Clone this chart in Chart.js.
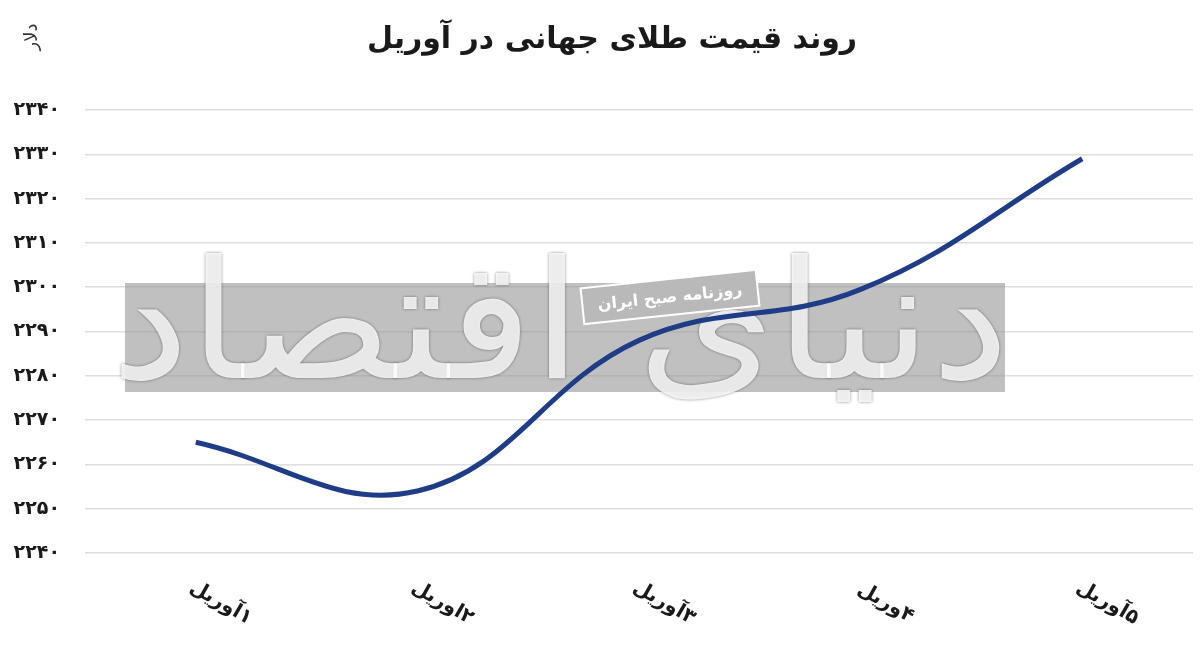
<!DOCTYPE html>
<html lang="fa">
<head>
<meta charset="utf-8">
<script src="https://cdn.jsdelivr.net/npm/chart.js@4.4.1/dist/chart.umd.min.js"></script>
<style>
  body { margin: 0; background: #fff; }
  canvas { display: block; }
</style>
</head>
<body>
<canvas id="c" width="1200" height="672"></canvas>
<script>
// values
const chartTitle = 'روند قیمت طلای جهانی در آوریل'
const unitLabel = 'دلار'
const days = ['۱آوریل', '۲اوریل', '۳آوریل', '۴وریل', '۵آوریل']
const prices = [2265, 2254, 2288, 2299.5, 2329]
const yMin = 2240
const yMax = 2340
const yStep = 10

function fa(n) {
    return String(n).replace(/\d/g, d => '۰۱۲۳۴۵۶۷۸۹'[d])
}

const FONT = '"DejaVu Sans", sans-serif'

// watermark band + title + rotated day labels
const decor = {
    id: 'decor',
    beforeDatasetsDraw(chart) {
        const ctx = chart.ctx
        ctx.save()
        ctx.fillStyle = 'rgba(150,150,150,0.6)'
        ctx.fillRect(125, 283, 880, 109)

        ctx.direction = 'rtl'
        ctx.textAlign = 'center'
        ctx.textBaseline = 'middle'
        ctx.save()
        ctx.translate(560, 335)
        ctx.scale(1.6, 1.5)
        ctx.font = '110px ' + FONT
        ctx.shadowColor = 'rgba(0,0,0,0.55)'
        ctx.shadowBlur = 3
        ctx.fillStyle = 'rgba(255,255,255,0.85)'
        ctx.fillText('دنیای اقتصاد', 0, 0)
        ctx.restore()

        ctx.save()
        ctx.translate(670, 297)
        ctx.rotate(-6 * Math.PI / 180)
        ctx.fillStyle = 'rgba(185,185,185,1)'
        ctx.fillRect(-88, -18, 176, 36)
        ctx.strokeStyle = '#fff'
        ctx.lineWidth = 2
        ctx.strokeRect(-88, -18, 176, 36)
        ctx.fillStyle = '#fff'
        ctx.font = 'bold 16px ' + FONT
        ctx.fillText('روزنامه صبح ایران', 0, 1)
        ctx.restore()
        ctx.restore()
    },
    afterDraw(chart) {
        const ctx = chart.ctx
        const x = chart.scales.x
        ctx.save()
        ctx.direction = 'rtl'
        ctx.textAlign = 'center'
        ctx.textBaseline = 'middle'
        ctx.fillStyle = '#1a1a1a'

        ctx.font = 'bold 30px ' + FONT
        ctx.fillText(chartTitle, 612, 40)

        ctx.save()
        ctx.translate(32, 37)
        ctx.rotate(-Math.PI / 2)
        ctx.font = '18px ' + FONT
        ctx.fillStyle = '#333'
        ctx.fillText(unitLabel, 0, 0)
        ctx.restore()

        ctx.font = 'bold 20px ' + FONT
        days.forEach((d, i) => {
            ctx.save()
            ctx.translate(x.getPixelForValue(i) + 25, 603)
            ctx.rotate(30 * Math.PI / 180)
            ctx.fillText(d, 0, 0)
            ctx.restore()
        })
        ctx.restore()
    }
}

new Chart(document.getElementById('c'), {
    type: 'line',
    data: {
        labels: days,
        datasets: [{
            data: prices,
            borderColor: '#1f3d87',
            borderWidth: 5,
            tension: 0.4,
            pointRadius: 0,
            fill: false
        }]
    },
    options: {
        responsive: false,
        animation: false,
        layout: { padding: { top: 110, bottom: 119, left: 0, right: 7 } },
        plugins: {
            legend: { display: false },
            title: { display: false },
            tooltip: { enabled: false }
        },
        scales: {
            x: {
                type: 'category',
                offset: true,
                grid: { display: false },
                border: { display: false },
                ticks: { display: false },
                afterFit: s => { s.height = 0 }
            },
            y: {
                min: yMin,
                max: yMax,
                grid: { color: '#dedede', lineWidth: 1.5, drawTicks: false },
                border: { display: false },
                ticks: {
                    stepSize: yStep,
                    padding: 25,
                    color: '#1a1a1a',
                    font: { family: 'DejaVu Sans', size: 19, weight: 'bold' },
                    callback: v => fa(v)
                },
                afterFit: s => { s.width = 85 }
            }
        }
    },
    plugins: [decor]
})
</script>
</body>
</html>
